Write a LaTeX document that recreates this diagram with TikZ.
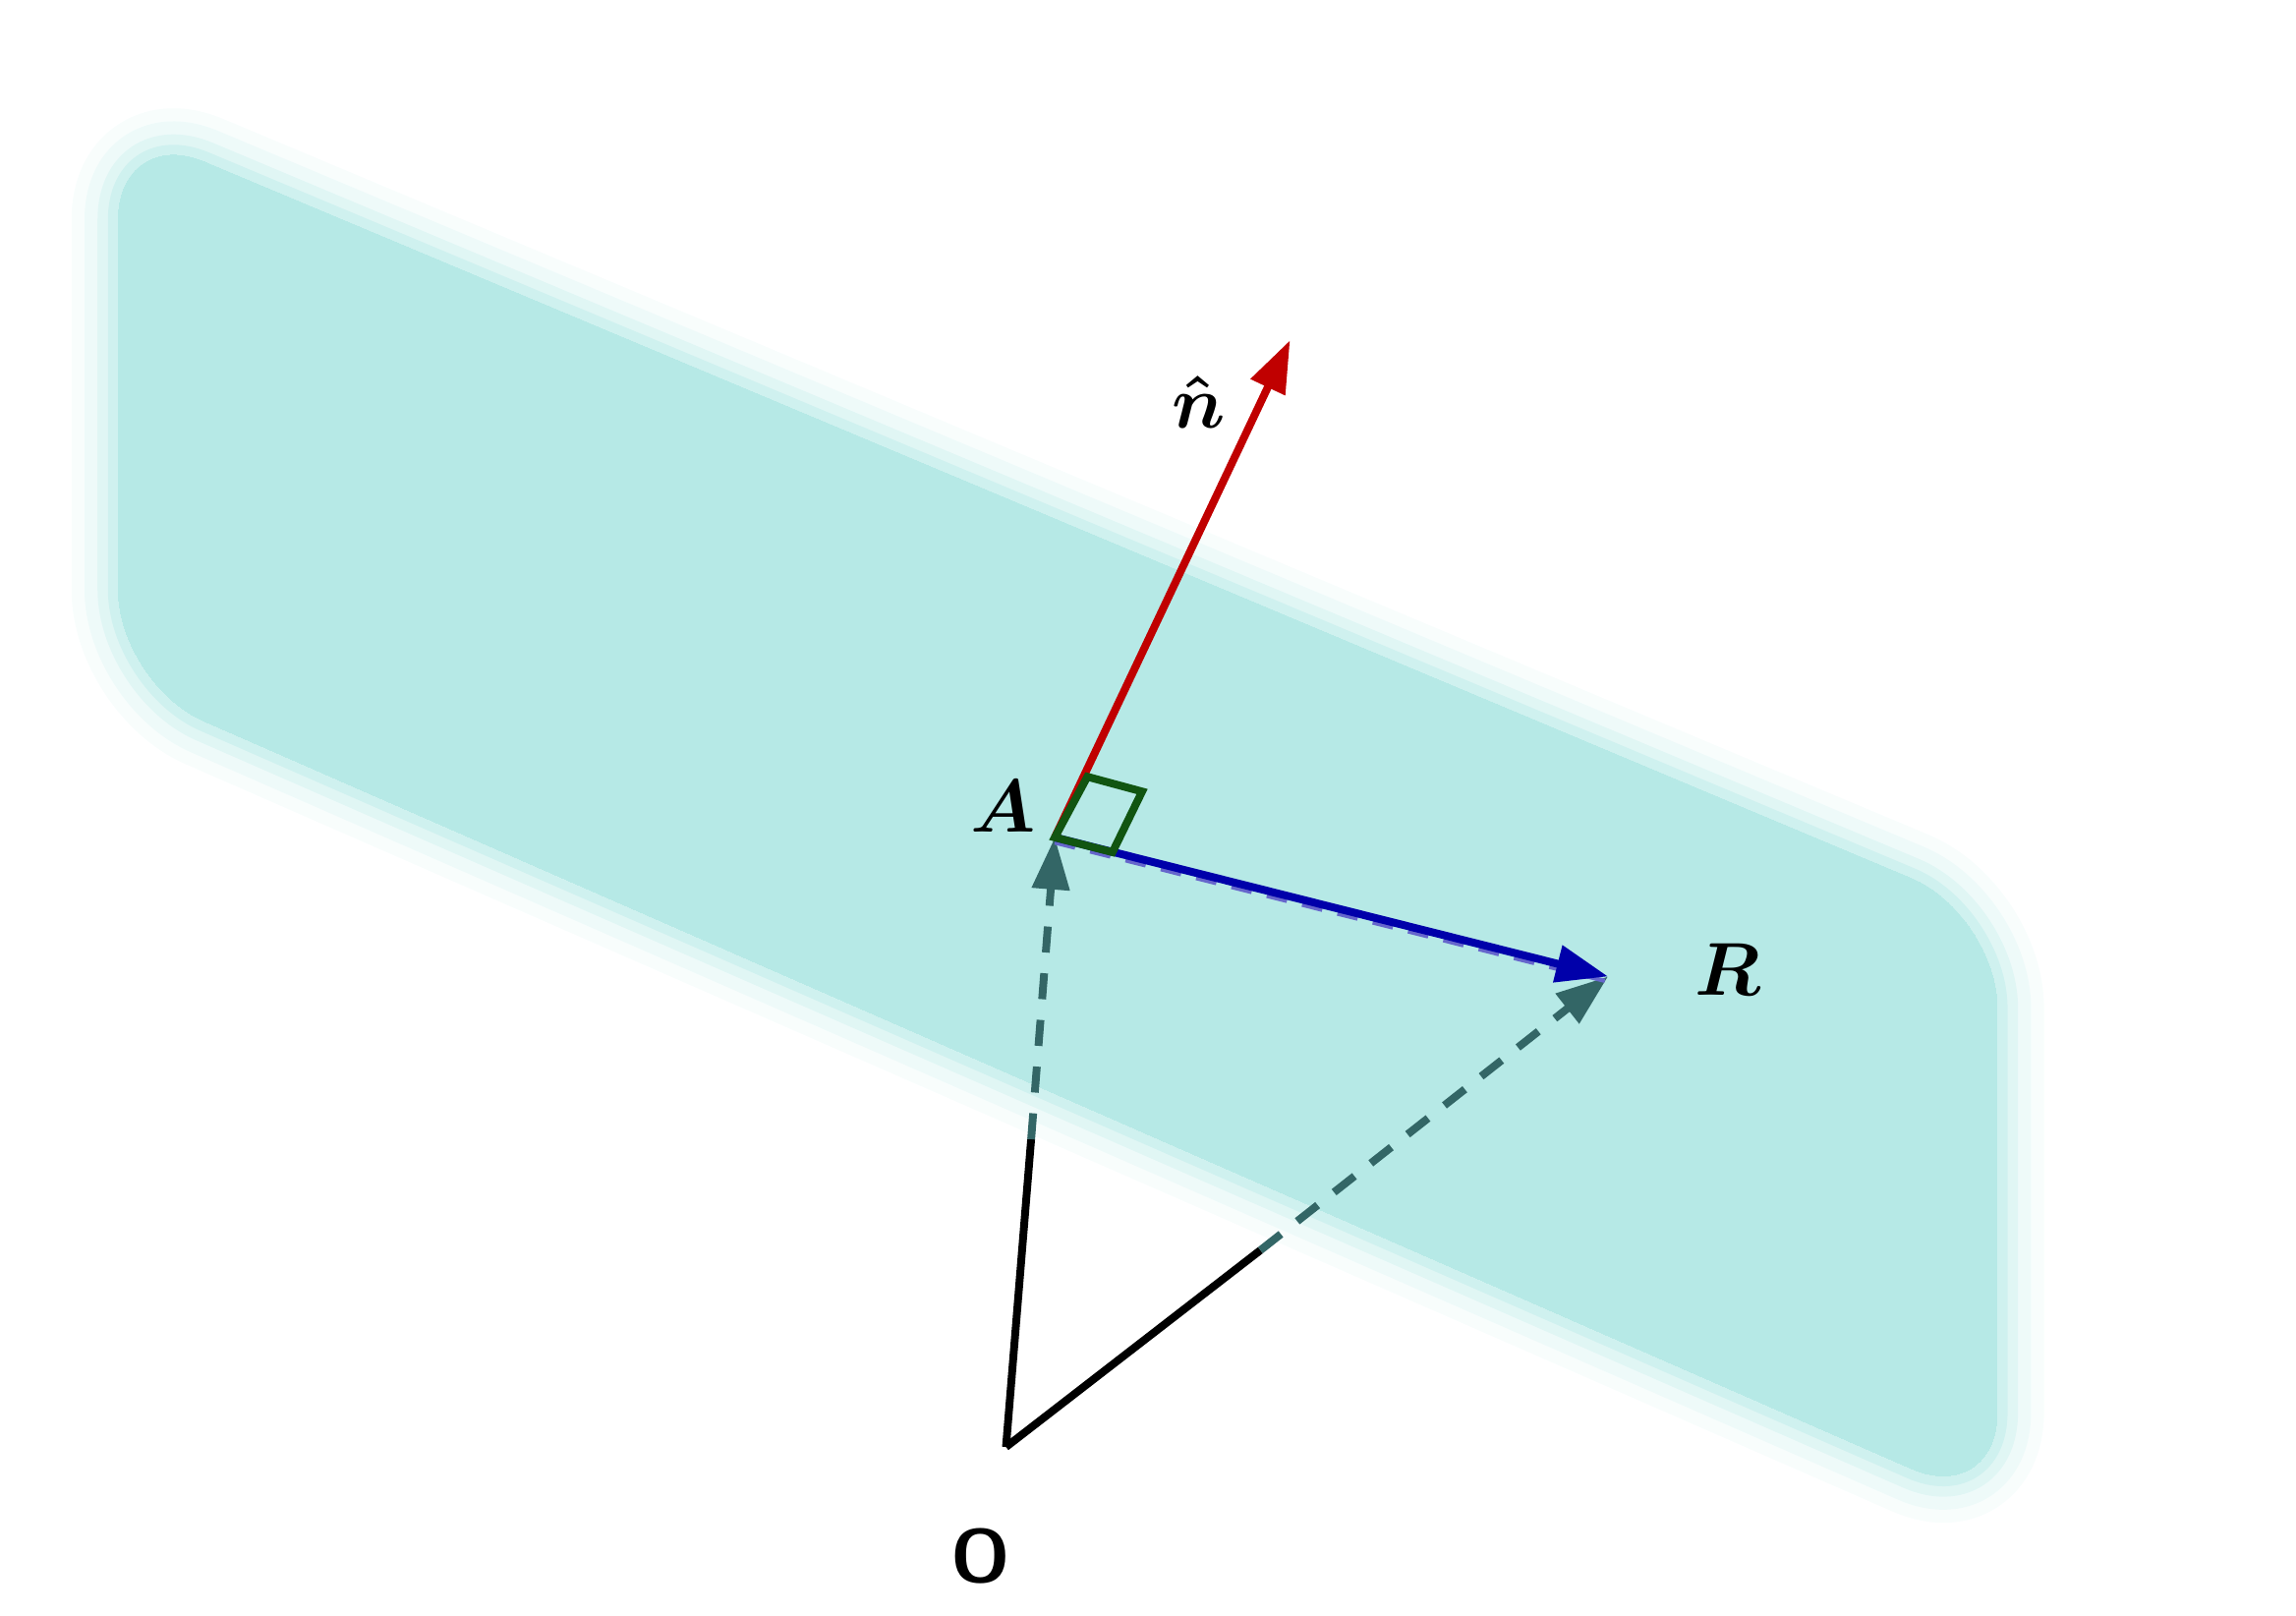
\documentclass[tikz,border=0pt]{standalone}
\usepackage{amsmath,bm}
\usetikzlibrary{arrows.meta}
\definecolor{plane}{HTML}{B6E9E6}
\definecolor{slate}{HTML}{336666}
\definecolor{nred}{HTML}{C00000}
\definecolor{rblue}{HTML}{0000AA}
\definecolor{rgreen}{HTML}{115511}
\tikzset{
 vec/.style={line width=1.5pt,-{Triangle[length=10pt,width=7pt]}},
 dsh/.style={vec,color=slate,dash pattern=on 5pt off 4pt},
 solidpart/.style={line width=1.5pt,black},
 lab/.style={font=\Large}
}
\begin{document}
\begin{tikzpicture}[x=0.01cm,y=-0.01cm]
\useasboundingbox (0,0) rectangle (1552,1092);
% plane with soft edges
\foreach \w/\o in {18/0.1,13/0.15,8/0.25,4/0.4,0/1}{
 \fill[plane,opacity=\o,draw=plane,line width=\w pt,rounded corners=18pt,line join=round]
 (80,85) -- (1350,618) -- (1350,1018) -- (80,462) -- cycle;}
\coordinate (O) at (680,978);
\coordinate (A) at (713,566);
\coordinate (R) at (1087,660);
\coordinate (N) at (872,230);
\coordinate (P1) at (697,770);
\coordinate (P2) at (852,845);
\draw[solidpart] (O) -- (P1);
\draw[solidpart] (O) -- (P2);
\draw[dsh] (P1) -- (A);
\draw[dsh] (P2) -- (R);
\draw[line width=0.8pt,rblue!60,dash pattern=on 4pt off 3pt] ([yshift=-1pt]A) -- ([yshift=-1pt]R);
\draw[vec,rblue] (A) -- (R);
\draw[vec,nred] (A) -- (N);
\draw[rgreen,line width=1.5pt] (A) -- (735,525) -- (772,535) -- (752,576) -- cycle;
\node[lab] (nl) at (810,272) {$\bm{\hat n}$};
\node[lab] (al) at (678,545) {$\bm{A}$};
\node[lab] (rl) at (1168,655) {$\bm{R}$};
\node[lab] (ol) at (663,1052) {\textsf{\textbf{O}}};
\end{tikzpicture}
\end{document}
